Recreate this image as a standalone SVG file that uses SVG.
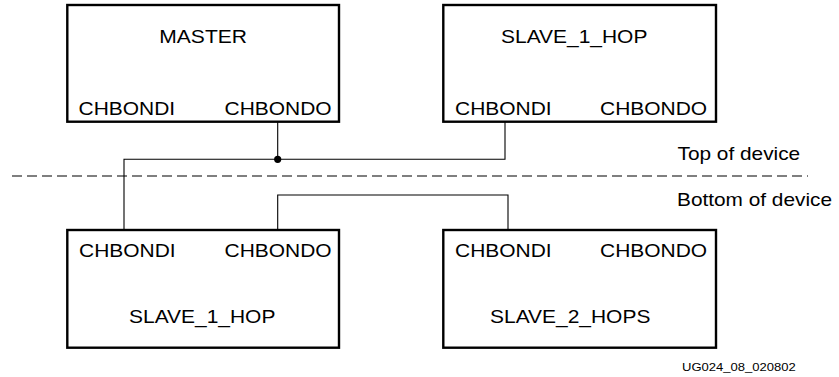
<svg xmlns="http://www.w3.org/2000/svg" width="839" height="377" viewBox="0 0 839 377">
<style>
.box{fill:#fff;stroke:#000;stroke-width:2.4}
.t{font-family:"Liberation Sans",Arial,sans-serif;font-size:18px;fill:#000}
.s{font-family:"Liberation Sans",Arial,sans-serif;font-size:11px;fill:#000}
.w{fill:none;stroke:#000;stroke-width:1.1}
.d{fill:none;stroke:#000;stroke-width:1.1;stroke-dasharray:10 5}
</style>
<rect width="839" height="377" fill="#fff"/>
<g id="connectors">
<line class="d" x1="12" y1="176" x2="808" y2="176"/>
<polyline class="w" points="277.7,122 277.7,159.3"/>
<polyline class="w" points="124,230 124,159.3 505,159.3 505,122"/>
<circle cx="277.7" cy="159.3" r="3.6" fill="#000"/>
<polyline class="w" points="277.7,230 277.7,195 508,195 508,230"/>
</g>
<g id="master">
<rect class="box" x="67.3" y="5" width="271.7" height="116.7"/>
<text class="t" transform="translate(159.3 43.3) scale(1.17 1)">MASTER</text>
<text class="t" transform="translate(78.5 114.5) scale(1.165 1)">CHBONDI</text>
<text class="t" transform="translate(224.5 114.5) scale(1.165 1)">CHBONDO</text>
</g>
<g id="slave1_top">
<rect class="box" x="443.3" y="5" width="272.7" height="116.7"/>
<text class="t" transform="translate(501 43.3) scale(1.165 1)">SLAVE_1_HOP</text>
<text class="t" transform="translate(455 114.5) scale(1.165 1)">CHBONDI</text>
<text class="t" transform="translate(600 114.5) scale(1.165 1)">CHBONDO</text>
</g>
<g id="slave1_bottom">
<rect class="box" x="67.3" y="230" width="271.7" height="117.7"/>
<text class="t" transform="translate(79 256.7) scale(1.165 1)">CHBONDI</text>
<text class="t" transform="translate(224.5 256.7) scale(1.165 1)">CHBONDO</text>
<text class="t" transform="translate(129 323.3) scale(1.165 1)">SLAVE_1_HOP</text>
</g>
<g id="slave2_bottom">
<rect class="box" x="443.3" y="230" width="272.7" height="117.7"/>
<text class="t" transform="translate(455 256.7) scale(1.165 1)">CHBONDI</text>
<text class="t" transform="translate(600 256.7) scale(1.165 1)">CHBONDO</text>
<text class="t" transform="translate(490 323.3) scale(1.165 1)">SLAVE_2_HOPS</text>
</g>
<g id="labels">
<text class="t" transform="translate(677.5 160) scale(1.157 1)">Top of device</text>
<text class="t" transform="translate(677 206) scale(1.157 1)">Bottom of device</text>
<text class="s" transform="translate(682 370.5) scale(1.185 1)">UG024_08_020802</text>
</g>
</svg>
